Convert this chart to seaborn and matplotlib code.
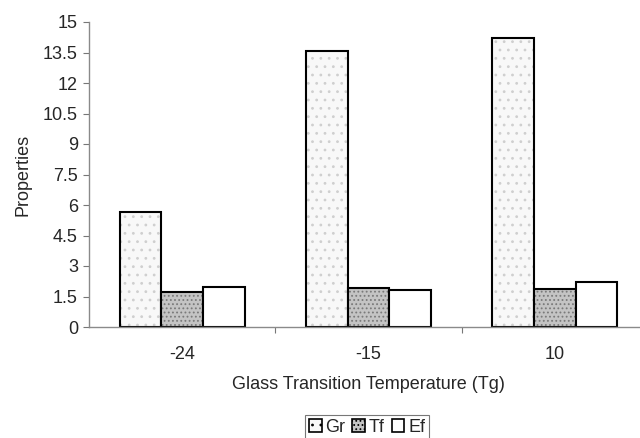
import matplotlib
matplotlib.use("Agg")
import matplotlib.pyplot as plt
from matplotlib.patches import Patch
import seaborn as sns
import pandas as pd

categories = ["-24", "-15", "10"]
series = ["Gr", "Tf", "Ef"]
gr_values = [5.65, 13.55, 14.2]
tf_values = [1.7, 1.9, 1.85]
ef_values = [1.95, 1.8, 2.2]
y_ticks = [0, 1.5, 3, 4.5, 6, 7.5, 9, 10.5, 12, 13.5, 15]
y_tick_labels = ["0", "1.5", "3", "4.5", "6", "7.5", "9", "10.5", "12", "13.5", "15"]

rows = []
for name, vals in zip(series, [gr_values, tf_values, ef_values]):
    for cat, v in zip(categories, vals):
        rows.append({"Tg": cat, "Property": name, "Value": v})
df = pd.DataFrame(rows)

sns.set_theme(style="white")
plt.rcParams["font.family"] = ["Liberation Sans", "DejaVu Sans"]
plt.rcParams["hatch.linewidth"] = 0.8

FS = 13

fig = plt.figure(figsize=(6.4, 4.38), dpi=100)
ax = fig.add_axes([89 / 640, 1 - 327 / 438, (648 - 89) / 640, (327 - 22) / 438])

styles = {
    "Gr": dict(facecolor="#f8f8f8", hatch="..", hatch_color="#cfcfcf"),
    "Tf": dict(facecolor="#c4c4c4", hatch="....", hatch_color="#7a7a7a"),
    "Ef": dict(facecolor="white", hatch=None, hatch_color="black"),
}

sns.barplot(data=df, x="Tg", y="Value", hue="Property", order=categories,
            hue_order=series, width=0.67, ax=ax, legend=False,
            edgecolor="black", linewidth=1.5, saturation=1)

for name, cont in zip(series, ax.containers):
    st = styles[name]
    for bar in cont:
        bar.set_facecolor(st["facecolor"])
        bar.set_edgecolor("black")
        if st["hatch"]:
            bar.set_hatch(st["hatch"])
            bar._hatch_color = matplotlib.colors.to_rgba(st["hatch_color"])

ax.set_ylim(0, 15)
ax.set_xlim(-0.5, 2.5)
ax.set_yticks(y_ticks)
ax.set_yticklabels(y_tick_labels)
ax.set_xticks([0, 1, 2])
ax.set_xticklabels(categories)
ax.tick_params(axis="x", length=0, pad=14, labelsize=FS)
ax.tick_params(axis="y", length=4, width=0.8, color="#777777", direction="out",
               left=True, pad=4, labelsize=FS)
# boundary marks between the category groups
ax.set_xticks([0.5, 1.5], minor=True)
ax.tick_params(axis="x", which="minor", length=4, width=0.8, color="#777777",
               direction="out", bottom=True)

for side in ["top", "right"]:
    ax.spines[side].set_visible(False)
for side in ["left", "bottom"]:
    ax.spines[side].set_color("#8a8a8a")
    ax.spines[side].set_linewidth(1.0)

ax.set_xlabel("Glass Transition Temperature (Tg)", fontsize=FS, labelpad=9)
ax.set_ylabel("Properties", fontsize=FS, labelpad=8)

handles = []
for name in series:
    st = styles[name]
    p = Patch(facecolor=st["facecolor"], edgecolor="black", linewidth=1.2,
              hatch=st["hatch"], label=name)
    handles.append(p)
leg = fig.legend(handles=handles, loc="center", bbox_to_anchor=(367 / 640, 1 - 427 / 438),
                 ncol=3, frameon=True, fancybox=False, fontsize=FS,
                 handlelength=0.7, handleheight=0.7, handletextpad=0.2,
                 columnspacing=0.4, borderpad=0.2, borderaxespad=0)
leg.get_frame().set_edgecolor("#555555")
leg.get_frame().set_linewidth(0.8)

fig.savefig("out.png", dpi=100)
